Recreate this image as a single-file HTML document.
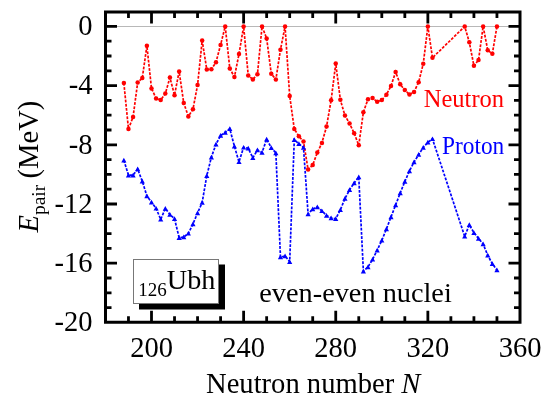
<!DOCTYPE html>
<html><head><meta charset="utf-8"><title>Epair 126Ubh</title>
<style>html,body{margin:0;padding:0;background:#fff;overflow:hidden;}svg{display:block;will-change:transform;}text{font-family:"Liberation Serif",serif;fill:#000;}</style>
</head><body>
<svg width="550" height="402" viewBox="0 0 550 402">
<line x1="107.0" y1="26.55" x2="518.5" y2="26.55" stroke="#b8b8b8" stroke-width="1.1"/>
<path d="M105.5 307.60H111.50M520.0 307.60H514.00M105.5 292.80H111.50M520.0 292.80H514.00M105.5 278.00H111.50M520.0 278.00H514.00M105.5 263.20H117.00M520.0 263.20H508.50M105.5 248.40H111.50M520.0 248.40H514.00M105.5 233.60H111.50M520.0 233.60H514.00M105.5 218.80H111.50M520.0 218.80H514.00M105.5 204.00H117.00M520.0 204.00H508.50M105.5 189.20H111.50M520.0 189.20H514.00M105.5 174.40H111.50M520.0 174.40H514.00M105.5 159.60H111.50M520.0 159.60H514.00M105.5 144.80H117.00M520.0 144.80H508.50M105.5 130.00H111.50M520.0 130.00H514.00M105.5 115.20H111.50M520.0 115.20H514.00M105.5 100.40H111.50M520.0 100.40H514.00M105.5 85.60H117.00M520.0 85.60H508.50M105.5 70.80H111.50M520.0 70.80H514.00M105.5 56.00H111.50M520.0 56.00H514.00M105.5 41.20H111.50M520.0 41.20H514.00M105.5 26.40H117.00M520.0 26.40H508.50M128.47 322.25V316.25M128.47 12.0V18.00M151.50 322.25V310.75M151.50 12.0V23.50M174.53 322.25V316.25M174.53 12.0V18.00M197.56 322.25V316.25M197.56 12.0V18.00M220.59 322.25V316.25M220.59 12.0V18.00M243.62 322.25V310.75M243.62 12.0V23.50M266.65 322.25V316.25M266.65 12.0V18.00M289.68 322.25V316.25M289.68 12.0V18.00M312.71 322.25V316.25M312.71 12.0V18.00M335.74 322.25V310.75M335.74 12.0V23.50M358.77 322.25V316.25M358.77 12.0V18.00M381.80 322.25V316.25M381.80 12.0V18.00M404.83 322.25V316.25M404.83 12.0V18.00M427.86 322.25V310.75M427.86 12.0V23.50M450.89 322.25V316.25M450.89 12.0V18.00M473.92 322.25V316.25M473.92 12.0V18.00M496.95 322.25V316.25M496.95 12.0V18.00" stroke="#000" stroke-width="2.8" fill="none"/>
<polyline points="123.86,160.30 128.47,175.20 133.08,175.20 137.68,169.10 142.29,181.30 146.89,196.00 151.50,202.20 156.11,208.40 160.71,219.40 165.32,208.50 169.92,214.50 174.53,218.80 179.14,237.70 183.74,237.10 188.35,233.40 192.95,224.00 197.56,213.00 202.17,202.50 206.77,175.80 211.38,157.20 215.98,144.20 220.59,135.50 225.20,132.50 229.80,128.80 234.41,146.30 239.01,161.90 243.62,147.40 248.23,148.20 252.83,157.80 257.44,150.00 262.04,152.60 266.65,139.20 271.26,147.70 275.86,153.00 280.47,257.10 285.07,256.00 289.68,261.70 294.29,139.70 298.89,143.80 303.50,147.60 308.10,214.10 312.71,209.00 317.32,207.10 321.92,210.90 326.53,215.60 331.13,218.00 335.74,218.80 340.35,209.90 344.95,198.50 349.56,189.80 354.16,183.10 358.77,177.00 363.38,271.20 367.98,267.00 372.59,259.40 377.19,250.30 381.80,240.40 386.41,229.00 391.01,217.00 395.62,205.00 400.22,193.00 404.83,181.50 409.44,171.00 414.04,162.10 418.65,154.60 423.25,147.50 427.86,142.30 432.47,138.90 464.71,236.40 469.31,224.80 473.92,232.70 478.53,238.50 483.13,244.00 487.74,255.30 492.34,263.80 496.95,270.00" fill="none" stroke="#0000ff" stroke-width="1.7" stroke-dasharray="2.8 1.4"/>
<polyline points="123.86,82.90 128.47,129.00 133.08,116.90 137.68,82.50 142.29,78.10 146.89,45.80 151.50,88.40 156.11,98.40 160.71,100.00 165.32,93.60 169.92,77.60 174.53,95.20 179.14,71.40 183.74,103.00 188.35,116.40 192.95,109.30 197.56,85.10 202.17,40.50 206.77,69.50 211.38,69.30 215.98,62.30 220.59,44.90 225.20,26.40 229.80,68.40 234.41,77.00 239.01,54.00 243.62,26.40 248.23,75.40 252.83,79.50 257.44,74.30 262.04,26.40 266.65,38.40 271.26,73.70 275.86,79.60 280.47,49.70 285.07,26.40 289.68,96.00 294.29,128.90 298.89,136.30 303.50,141.60 308.10,169.60 312.71,165.00 317.32,152.60 321.92,142.90 326.53,126.60 331.13,100.20 335.74,63.60 340.35,99.80 344.95,115.60 349.56,123.40 354.16,133.20 358.77,145.30 363.38,112.20 367.98,99.20 372.59,98.00 377.19,101.70 381.80,100.00 386.41,94.70 391.01,86.00 395.62,72.00 400.22,84.30 404.83,90.00 409.44,94.50 414.04,91.90 418.65,82.20 423.25,63.80 427.86,26.40 432.47,57.80 464.71,26.40 469.31,42.20 473.92,65.80 478.53,60.00 483.13,26.40 487.74,50.20 492.34,53.80 496.95,26.40" fill="none" stroke="#ff0000" stroke-width="1.7" stroke-dasharray="2.8 1.4"/>
<g fill="#ff0000"><circle cx="123.86" cy="82.90" r="2.25"/><circle cx="128.47" cy="129.00" r="2.25"/><circle cx="133.08" cy="116.90" r="2.25"/><circle cx="137.68" cy="82.50" r="2.25"/><circle cx="142.29" cy="78.10" r="2.25"/><circle cx="146.89" cy="45.80" r="2.25"/><circle cx="151.50" cy="88.40" r="2.25"/><circle cx="156.11" cy="98.40" r="2.25"/><circle cx="160.71" cy="100.00" r="2.25"/><circle cx="165.32" cy="93.60" r="2.25"/><circle cx="169.92" cy="77.60" r="2.25"/><circle cx="174.53" cy="95.20" r="2.25"/><circle cx="179.14" cy="71.40" r="2.25"/><circle cx="183.74" cy="103.00" r="2.25"/><circle cx="188.35" cy="116.40" r="2.25"/><circle cx="192.95" cy="109.30" r="2.25"/><circle cx="197.56" cy="85.10" r="2.25"/><circle cx="202.17" cy="40.50" r="2.25"/><circle cx="206.77" cy="69.50" r="2.25"/><circle cx="211.38" cy="69.30" r="2.25"/><circle cx="215.98" cy="62.30" r="2.25"/><circle cx="220.59" cy="44.90" r="2.25"/><circle cx="225.20" cy="26.40" r="2.25"/><circle cx="229.80" cy="68.40" r="2.25"/><circle cx="234.41" cy="77.00" r="2.25"/><circle cx="239.01" cy="54.00" r="2.25"/><circle cx="243.62" cy="26.40" r="2.25"/><circle cx="248.23" cy="75.40" r="2.25"/><circle cx="252.83" cy="79.50" r="2.25"/><circle cx="257.44" cy="74.30" r="2.25"/><circle cx="262.04" cy="26.40" r="2.25"/><circle cx="266.65" cy="38.40" r="2.25"/><circle cx="271.26" cy="73.70" r="2.25"/><circle cx="275.86" cy="79.60" r="2.25"/><circle cx="280.47" cy="49.70" r="2.25"/><circle cx="285.07" cy="26.40" r="2.25"/><circle cx="289.68" cy="96.00" r="2.25"/><circle cx="294.29" cy="128.90" r="2.25"/><circle cx="298.89" cy="136.30" r="2.25"/><circle cx="303.50" cy="141.60" r="2.25"/><circle cx="308.10" cy="169.60" r="2.25"/><circle cx="312.71" cy="165.00" r="2.25"/><circle cx="317.32" cy="152.60" r="2.25"/><circle cx="321.92" cy="142.90" r="2.25"/><circle cx="326.53" cy="126.60" r="2.25"/><circle cx="331.13" cy="100.20" r="2.25"/><circle cx="335.74" cy="63.60" r="2.25"/><circle cx="340.35" cy="99.80" r="2.25"/><circle cx="344.95" cy="115.60" r="2.25"/><circle cx="349.56" cy="123.40" r="2.25"/><circle cx="354.16" cy="133.20" r="2.25"/><circle cx="358.77" cy="145.30" r="2.25"/><circle cx="363.38" cy="112.20" r="2.25"/><circle cx="367.98" cy="99.20" r="2.25"/><circle cx="372.59" cy="98.00" r="2.25"/><circle cx="377.19" cy="101.70" r="2.25"/><circle cx="381.80" cy="100.00" r="2.25"/><circle cx="386.41" cy="94.70" r="2.25"/><circle cx="391.01" cy="86.00" r="2.25"/><circle cx="395.62" cy="72.00" r="2.25"/><circle cx="400.22" cy="84.30" r="2.25"/><circle cx="404.83" cy="90.00" r="2.25"/><circle cx="409.44" cy="94.50" r="2.25"/><circle cx="414.04" cy="91.90" r="2.25"/><circle cx="418.65" cy="82.20" r="2.25"/><circle cx="423.25" cy="63.80" r="2.25"/><circle cx="427.86" cy="26.40" r="2.25"/><circle cx="432.47" cy="57.80" r="2.25"/><circle cx="464.71" cy="26.40" r="2.25"/><circle cx="469.31" cy="42.20" r="2.25"/><circle cx="473.92" cy="65.80" r="2.25"/><circle cx="478.53" cy="60.00" r="2.25"/><circle cx="483.13" cy="26.40" r="2.25"/><circle cx="487.74" cy="50.20" r="2.25"/><circle cx="492.34" cy="53.80" r="2.25"/><circle cx="496.95" cy="26.40" r="2.25"/></g>
<path d="M123.86 157.80L126.46 162.50L121.26 162.50ZM128.47 172.70L131.07 177.40L125.87 177.40ZM133.08 172.70L135.68 177.40L130.48 177.40ZM137.68 166.60L140.28 171.30L135.08 171.30ZM142.29 178.80L144.89 183.50L139.69 183.50ZM146.89 193.50L149.49 198.20L144.29 198.20ZM151.50 199.70L154.10 204.40L148.90 204.40ZM156.11 205.90L158.71 210.60L153.51 210.60ZM160.71 216.90L163.31 221.60L158.11 221.60ZM165.32 206.00L167.92 210.70L162.72 210.70ZM169.92 212.00L172.52 216.70L167.32 216.70ZM174.53 216.30L177.13 221.00L171.93 221.00ZM179.14 235.20L181.74 239.90L176.54 239.90ZM183.74 234.60L186.34 239.30L181.14 239.30ZM188.35 230.90L190.95 235.60L185.75 235.60ZM192.95 221.50L195.55 226.20L190.35 226.20ZM197.56 210.50L200.16 215.20L194.96 215.20ZM202.17 200.00L204.77 204.70L199.57 204.70ZM206.77 173.30L209.37 178.00L204.17 178.00ZM211.38 154.70L213.98 159.40L208.78 159.40ZM215.98 141.70L218.58 146.40L213.38 146.40ZM220.59 133.00L223.19 137.70L217.99 137.70ZM225.20 130.00L227.80 134.70L222.60 134.70ZM229.80 126.30L232.40 131.00L227.20 131.00ZM234.41 143.80L237.01 148.50L231.81 148.50ZM239.01 159.40L241.61 164.10L236.41 164.10ZM243.62 144.90L246.22 149.60L241.02 149.60ZM248.23 145.70L250.83 150.40L245.63 150.40ZM252.83 155.30L255.43 160.00L250.23 160.00ZM257.44 147.50L260.04 152.20L254.84 152.20ZM262.04 150.10L264.64 154.80L259.44 154.80ZM266.65 136.70L269.25 141.40L264.05 141.40ZM271.26 145.20L273.86 149.90L268.66 149.90ZM275.86 150.50L278.46 155.20L273.26 155.20ZM280.47 254.60L283.07 259.30L277.87 259.30ZM285.07 253.50L287.67 258.20L282.47 258.20ZM289.68 259.20L292.28 263.90L287.08 263.90ZM294.29 137.20L296.89 141.90L291.69 141.90ZM298.89 141.30L301.49 146.00L296.29 146.00ZM303.50 145.10L306.10 149.80L300.90 149.80ZM308.10 211.60L310.70 216.30L305.50 216.30ZM312.71 206.50L315.31 211.20L310.11 211.20ZM317.32 204.60L319.92 209.30L314.72 209.30ZM321.92 208.40L324.52 213.10L319.32 213.10ZM326.53 213.10L329.13 217.80L323.93 217.80ZM331.13 215.50L333.73 220.20L328.53 220.20ZM335.74 216.30L338.34 221.00L333.14 221.00ZM340.35 207.40L342.95 212.10L337.75 212.10ZM344.95 196.00L347.55 200.70L342.35 200.70ZM349.56 187.30L352.16 192.00L346.96 192.00ZM354.16 180.60L356.76 185.30L351.56 185.30ZM358.77 174.50L361.37 179.20L356.17 179.20ZM363.38 268.70L365.98 273.40L360.78 273.40ZM367.98 264.50L370.58 269.20L365.38 269.20ZM372.59 256.90L375.19 261.60L369.99 261.60ZM377.19 247.80L379.79 252.50L374.59 252.50ZM381.80 237.90L384.40 242.60L379.20 242.60ZM386.41 226.50L389.01 231.20L383.81 231.20ZM391.01 214.50L393.61 219.20L388.41 219.20ZM395.62 202.50L398.22 207.20L393.02 207.20ZM400.22 190.50L402.82 195.20L397.62 195.20ZM404.83 179.00L407.43 183.70L402.23 183.70ZM409.44 168.50L412.04 173.20L406.84 173.20ZM414.04 159.60L416.64 164.30L411.44 164.30ZM418.65 152.10L421.25 156.80L416.05 156.80ZM423.25 145.00L425.85 149.70L420.65 149.70ZM427.86 139.80L430.46 144.50L425.26 144.50ZM432.47 136.40L435.07 141.10L429.87 141.10ZM464.71 233.90L467.31 238.60L462.11 238.60ZM469.31 222.30L471.91 227.00L466.71 227.00ZM473.92 230.20L476.52 234.90L471.32 234.90ZM478.53 236.00L481.13 240.70L475.93 240.70ZM483.13 241.50L485.73 246.20L480.53 246.20ZM487.74 252.80L490.34 257.50L485.14 257.50ZM492.34 261.30L494.94 266.00L489.74 266.00ZM496.95 267.50L499.55 272.20L494.35 272.20Z" fill="#0000ff"/>
<rect x="105.5" y="12.0" width="414.5" height="310.25" fill="none" stroke="#000" stroke-width="3.0"/>
<text x="92.5" y="35.2" font-size="28.5" text-anchor="end">0</text>
<text x="92.5" y="94.4" font-size="28.5" text-anchor="end">-4</text>
<text x="92.5" y="153.6" font-size="28.5" text-anchor="end">-8</text>
<text x="92.5" y="212.8" font-size="28.5" text-anchor="end">-12</text>
<text x="92.5" y="272.0" font-size="28.5" text-anchor="end">-16</text>
<text x="92.5" y="331.2" font-size="28.5" text-anchor="end">-20</text>
<text x="151.5" y="357.3" font-size="28.5" text-anchor="middle">200</text>
<text x="243.6" y="357.3" font-size="28.5" text-anchor="middle">240</text>
<text x="335.7" y="357.3" font-size="28.5" text-anchor="middle">280</text>
<text x="427.9" y="357.3" font-size="28.5" text-anchor="middle">320</text>
<text x="520.0" y="357.3" font-size="28.5" text-anchor="middle">360</text>
<text x="206" y="392.8" font-size="28.6">Neutron number <tspan font-style="italic">N</tspan></text>
<g transform="translate(38.2,232.5) rotate(-90)"><text x="0" y="0" font-size="28.6"><tspan font-style="italic">E</tspan><tspan font-size="19.5" dy="7">pair</tspan><tspan dy="-7" dx="-0.9"> (MeV)</tspan></text></g>
<text x="423.8" y="106.5" font-size="24.5" fill="#ff0000" style="fill:#ff0000">Neutron</text>
<text x="442" y="154" font-size="24.5" textLength="62.2" lengthAdjust="spacingAndGlyphs" fill="#0000ff" style="fill:#0000ff">Proton</text>
<text x="259.3" y="302" font-size="28.3">even-even nuclei</text>
<rect x="139" y="264.5" width="86" height="45" fill="#000"/>
<rect x="133.5" y="259.5" width="85" height="44" fill="#fff" stroke="#777" stroke-width="1"/>
<text x="138.3" y="296" font-size="19">126</text>
<text x="166.8" y="288.5" font-size="28.2">Ubh</text>
</svg>
</body></html>
